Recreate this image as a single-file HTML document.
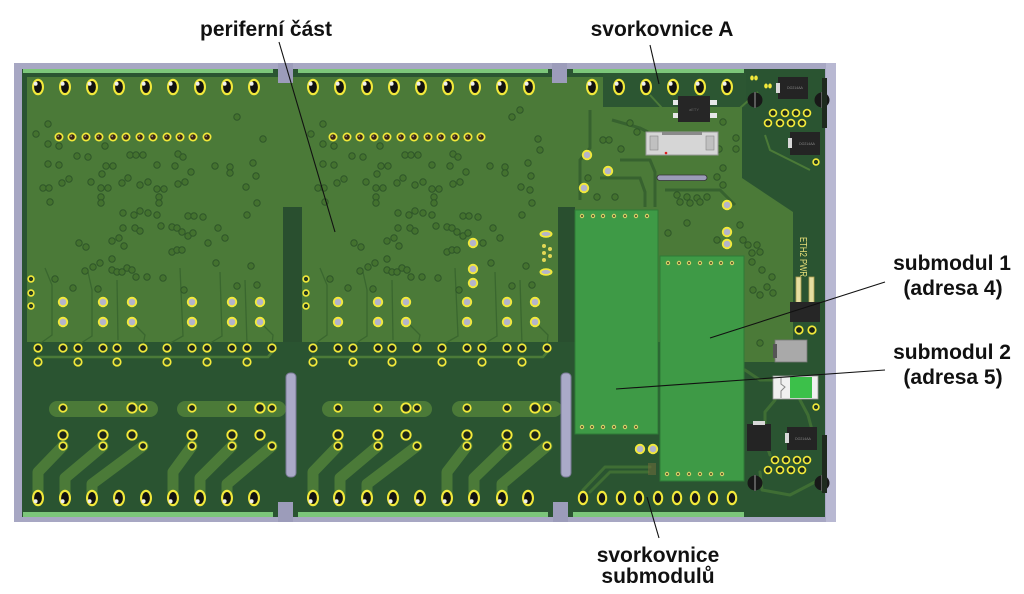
<!DOCTYPE html>
<html><head><meta charset="utf-8">
<style>
html,body{margin:0;padding:0;background:#fff;}
svg{display:block;}
text{font-family:"Liberation Sans",Arial,sans-serif;}
</style></head>
<body>
<svg width="1024" height="594" viewBox="0 0 1024 594" xmlns="http://www.w3.org/2000/svg" xmlns:xlink="http://www.w3.org/1999/xlink">
<defs>
 <g id="P"><ellipse rx="6" ry="8.3" fill="#f2e93b"/><ellipse rx="3.9" ry="6" fill="#111"/><circle cx="-2.4" cy="-3.2" r="2" fill="#eee"/></g>
 <g id="Pb"><ellipse rx="6" ry="8.3" fill="#f2e93b"/><ellipse rx="3.9" ry="6" fill="#111"/><circle cx="-2.4" cy="3.2" r="2" fill="#eee"/></g>
 <g id="Ps"><ellipse rx="5.2" ry="7.2" fill="#f2e93b"/><ellipse rx="3.2" ry="5" fill="#151515"/></g>
 <g id="R"><circle r="5.2" fill="#f2e93b"/><circle r="3.3" fill="#b4b4ca"/></g>
 <g id="D"><circle r="4.6" fill="#f2e93b"/><circle r="2.9" fill="#1c2418"/></g>
 <g id="DB"><circle r="5.6" fill="#f2e93b"/><circle r="3.7" fill="#1c2418"/></g>
 <g id="G"><circle r="4.6" fill="#f2e93b"/><circle r="2.9" fill="#30502c"/></g>
 <g id="S"><circle r="4.5" fill="#f2e93b"/><circle r="2.8" fill="#3a2616"/><circle cx="-0.8" cy="-0.8" r="0.9" fill="#9a8a70"/></g>
 <g id="T"><circle r="3.7" fill="#f2e93b"/><circle r="2.1" fill="#263a20"/></g>
 <g id="C"><circle r="4.3" fill="#f2e93b"/><circle r="2.6" fill="#1d2a1a"/></g>
 <g id="V"><circle r="3.2" fill="#44722f" stroke="#2f5629" stroke-width="1"/></g>
 <g id="M"><circle r="2.2" fill="#d8cf68"/><circle r="1" fill="#4a4a22"/></g>

 <g id="blk">
  <!-- faint traces in upper area -->
  <g stroke="#3a672f" stroke-width="1.3" fill="none">
   <path d="M45,268 L52,285 L52,335 L38,345"/>
   <path d="M88,272 L92,290 L92,336 L78,345"/>
   <path d="M117,280 L118,340"/>
   <path d="M132,322 L145,335 L143,345"/>
   <path d="M180,268 L183,336 L167,345"/>
   <path d="M220,272 L222,336 L207,345"/>
   <path d="M245,280 L247,345"/>
   <path d="M260,322 L273,335 L272,345"/>
  </g>
  <!-- vias -->
  <use href="#V" x="48" y="124"/><use href="#V" x="36" y="134"/><use href="#V" x="237" y="117"/><use href="#V" x="263" y="139"/>
  <use href="#V" x="59" y="146"/><use href="#V" x="105" y="146"/><use href="#V" x="48" y="144"/><use href="#V" x="77" y="156"/>
  <use href="#V" x="88" y="157"/><use href="#V" x="130" y="155"/><use href="#V" x="136" y="155"/><use href="#V" x="143" y="155"/>
  <use href="#V" x="178" y="154"/><use href="#V" x="183" y="157"/><use href="#V" x="48" y="164"/><use href="#V" x="59" y="165"/>
  <use href="#V" x="106" y="166"/><use href="#V" x="113" y="166"/><use href="#V" x="157" y="165"/><use href="#V" x="175" y="166"/>
  <use href="#V" x="191" y="172"/><use href="#V" x="215" y="166"/><use href="#V" x="230" y="167"/><use href="#V" x="230" y="173"/>
  <use href="#V" x="253" y="163"/><use href="#V" x="256" y="176"/><use href="#V" x="102" y="174"/><use href="#V" x="128" y="178"/>
  <use href="#V" x="69" y="179"/><use href="#V" x="62" y="183"/><use href="#V" x="43" y="188"/><use href="#V" x="49" y="188"/>
  <use href="#V" x="91" y="182"/><use href="#V" x="101" y="188"/><use href="#V" x="108" y="188"/><use href="#V" x="122" y="183"/>
  <use href="#V" x="140" y="185"/><use href="#V" x="148" y="182"/><use href="#V" x="157" y="189"/><use href="#V" x="164" y="189"/>
  <use href="#V" x="178" y="184"/><use href="#V" x="185" y="182"/><use href="#V" x="246" y="187"/><use href="#V" x="50" y="202"/>
  <use href="#V" x="101" y="197"/><use href="#V" x="101" y="203"/><use href="#V" x="159" y="197"/><use href="#V" x="159" y="203"/>
  <use href="#V" x="257" y="203"/><use href="#V" x="123" y="213"/><use href="#V" x="134" y="215"/><use href="#V" x="140" y="211"/>
  <use href="#V" x="148" y="213"/><use href="#V" x="157" y="215"/><use href="#V" x="188" y="216"/><use href="#V" x="194" y="216"/>
  <use href="#V" x="203" y="217"/><use href="#V" x="247" y="215"/><use href="#V" x="123" y="228"/><use href="#V" x="135" y="228"/>
  <use href="#V" x="140" y="231"/><use href="#V" x="161" y="226"/><use href="#V" x="172" y="227"/><use href="#V" x="177" y="228"/>
  <use href="#V" x="182" y="232"/><use href="#V" x="188" y="236"/><use href="#V" x="193" y="233"/><use href="#V" x="218" y="228"/>
  <use href="#V" x="225" y="238"/><use href="#V" x="112" y="241"/><use href="#V" x="119" y="238"/><use href="#V" x="79" y="243"/>
  <use href="#V" x="86" y="247"/><use href="#V" x="124" y="246"/><use href="#V" x="172" y="252"/><use href="#V" x="177" y="250"/>
  <use href="#V" x="182" y="250"/><use href="#V" x="208" y="243"/><use href="#V" x="112" y="259"/><use href="#V" x="100" y="263"/>
  <use href="#V" x="93" y="267"/><use href="#V" x="85" y="271"/><use href="#V" x="112" y="270"/><use href="#V" x="117" y="272"/>
  <use href="#V" x="122" y="272"/><use href="#V" x="127" y="268"/><use href="#V" x="132" y="270"/><use href="#V" x="136" y="277"/>
  <use href="#V" x="147" y="277"/><use href="#V" x="163" y="278"/><use href="#V" x="216" y="263"/><use href="#V" x="55" y="279"/>
  <use href="#V" x="73" y="288"/><use href="#V" x="98" y="289"/><use href="#V" x="184" y="290"/><use href="#V" x="237" y="286"/>
  <use href="#V" x="257" y="285"/><use href="#V" x="251" y="266"/>
 </g>
</defs>

<!-- frame -->
<rect x="14" y="63" width="822" height="459" fill="#a7a7c3"/>
<rect x="826" y="63" width="10" height="459" fill="#b8b8d2"/>
<!-- board -->
<rect x="22" y="69" width="803" height="448" fill="#2a5431"/>
<!-- edge strips -->
<g fill="#7cc67a">
 <rect x="23" y="69" width="250" height="4"/>
 <rect x="298" y="69" width="250" height="4"/>
 <rect x="573" y="69" width="171" height="4"/>
 <rect x="23" y="512" width="250" height="5"/>
 <rect x="298" y="512" width="250" height="5"/>
 <rect x="573" y="512" width="171" height="5"/>
</g>
<!-- copper lighter region -->
<rect x="27" y="77" width="715" height="265" fill="#4b7a38"/>
<rect x="283" y="207" width="19" height="135" fill="#294f2f"/>
<rect x="558" y="207" width="17" height="135" fill="#294f2f"/>
<rect x="603" y="73" width="142" height="34" fill="#2c5632"/>
<polygon points="742,107 742,178 793,212 793,345 775,362 742,362" fill="#4b7a38"/>
<rect x="742" y="73" width="4" height="34" fill="#2c5632"/>

<!-- top-right darker traces -->
<g stroke="#37622f" stroke-width="3" fill="none">
 <path d="M590,110 L590,148 L580,160 L580,200"/>
 <path d="M620,160 L650,160 L655,172 L655,207"/>
 <path d="M600,178 L640,178 L645,192 L645,207"/>
 <path d="M665,190 L720,190 L735,205"/>
 <path d="M612,120 L640,128 L648,132"/>
</g>
<g stroke="#4b7a38" stroke-width="2" fill="none">
 <path d="M650,95 L662,108 L740,108 L758,92"/>
 <path d="M765,135 L770,150 L790,160 L810,170"/>
</g>

<!-- notches -->
<g fill="#9c9cba">
 <rect x="278" y="63" width="15" height="20"/>
 <rect x="552" y="63" width="15" height="20"/>
 <rect x="278" y="502" width="15" height="20"/>
 <rect x="553" y="502" width="15" height="20"/>
</g>

<!-- block patterns -->
<use href="#blk"/>
<use href="#blk" x="275"/>

<!-- right zone vias -->
<g>
 <use href="#V" x="630" y="123"/><use href="#V" x="637" y="132"/><use href="#V" x="603" y="140"/><use href="#V" x="609" y="140"/>
 <use href="#V" x="621" y="149"/><use href="#V" x="723" y="122"/><use href="#V" x="736" y="138"/><use href="#V" x="719" y="149"/>
 <use href="#V" x="736" y="149"/><use href="#V" x="723" y="168"/><use href="#V" x="717" y="177"/><use href="#V" x="723" y="185"/>
 <use href="#V" x="677" y="195"/><use href="#V" x="687" y="197"/><use href="#V" x="697" y="198"/><use href="#V" x="707" y="197"/>
 <use href="#V" x="680" y="202"/><use href="#V" x="690" y="203"/><use href="#V" x="700" y="202"/><use href="#V" x="740" y="225"/>
 <use href="#V" x="743" y="240"/><use href="#V" x="748" y="245"/><use href="#V" x="757" y="245"/><use href="#V" x="752" y="253"/>
 <use href="#V" x="760" y="252"/><use href="#V" x="752" y="262"/><use href="#V" x="762" y="270"/><use href="#V" x="772" y="277"/>
 <use href="#V" x="767" y="287"/><use href="#V" x="753" y="290"/><use href="#V" x="760" y="295"/><use href="#V" x="773" y="293"/>
 <use href="#V" x="687" y="223"/><use href="#V" x="668" y="233"/><use href="#V" x="717" y="240"/><use href="#V" x="597" y="197"/>
 <use href="#V" x="615" y="197"/><use href="#V" x="588" y="178"/><use href="#V" x="760" y="343"/><use href="#V" x="520" y="110"/>
 <use href="#V" x="540" y="150"/><use href="#V" x="530" y="190"/>
</g>

<!-- bottom section copper traces -->
<g stroke="#4b7a38" fill="none" stroke-linecap="round" stroke-linejoin="round">
 <g stroke-width="16">
  <path d="M57,409 L150,409"/><path d="M185,409 L278,409"/>
  <path d="M330,409 L424,409"/><path d="M460,409 L554,409"/>
 </g>
 <g stroke-width="11">
  <path d="M63,446 L38,472 L38,498"/><path d="M103,446 L65,478 L65,498"/><path d="M143,446 L92,484 L92,498"/>
  <path d="M192,446 L173,472 L173,498"/><path d="M232,446 L200,478 L200,498"/><path d="M272,446 L227,484 L227,498"/>
  <path d="M338,446 L313,472 L313,498"/><path d="M378,446 L340,478 L340,498"/><path d="M417,446 L367,484 L367,498"/>
  <path d="M467,446 L447,472 L447,498"/><path d="M507,446 L474,478 L474,498"/><path d="M547,446 L502,484 L502,498"/>
 </g>
 <g stroke-width="2.5">
  <path d="M38,357 L268,357 L274,350"/><path d="M313,357 L543,357 L549,350"/>
 </g>
 <g stroke-width="3" stroke="#3f6e34">
  <path d="M583,490 L605,467 L650,467"/>
  <path d="M590,492 L610,472 L648,472"/>
  <path d="M775,400 L765,412 L765,440 L770,455"/>
  <path d="M800,400 L808,415 L812,430"/>
  <path d="M760,472 L762,490 L790,495 L815,482"/>
  <path d="M745,370 L760,380 L790,380 L800,395"/>
 </g>
</g>

<!-- slots -->
<rect x="286" y="373" width="10" height="104" rx="4" fill="#aaaac8" stroke="#7a7a96" stroke-width="1"/>
<rect x="561" y="373" width="10" height="104" rx="4" fill="#aaaac8" stroke="#7a7a96" stroke-width="1"/>

<!-- submodules -->
<rect x="575" y="210" width="83" height="224" fill="#3e9a46" stroke="#2f7a36" stroke-width="1"/>
<rect x="660" y="256" width="84" height="225" fill="#3e9a46" stroke="#2f7a36" stroke-width="1"/>
<g>
 <use href="#M" x="582" y="216"/><use href="#M" x="593" y="216"/><use href="#M" x="603" y="216"/><use href="#M" x="614" y="216"/><use href="#M" x="625" y="216"/><use href="#M" x="636" y="216"/><use href="#M" x="647" y="216"/>
 <use href="#M" x="582" y="427"/><use href="#M" x="592" y="427"/><use href="#M" x="603" y="427"/><use href="#M" x="614" y="427"/><use href="#M" x="625" y="427"/><use href="#M" x="636" y="427"/>
 <use href="#M" x="668" y="263"/><use href="#M" x="679" y="263"/><use href="#M" x="689" y="263"/><use href="#M" x="700" y="263"/><use href="#M" x="711" y="263"/><use href="#M" x="721" y="263"/><use href="#M" x="732" y="263"/>
 <use href="#M" x="667" y="474"/><use href="#M" x="678" y="474"/><use href="#M" x="689" y="474"/><use href="#M" x="700" y="474"/><use href="#M" x="711" y="474"/><use href="#M" x="722" y="474"/>
</g>

<!-- pads: top row -->
<g>
 <use href="#P" x="38" y="87"/><use href="#P" x="65" y="87"/><use href="#P" x="92" y="87"/><use href="#P" x="119" y="87"/><use href="#P" x="146" y="87"/><use href="#P" x="173" y="87"/><use href="#P" x="200" y="87"/><use href="#P" x="227" y="87"/><use href="#P" x="254" y="87"/>
 <use href="#P" x="313" y="87"/><use href="#P" x="340" y="87"/><use href="#P" x="367" y="87"/><use href="#P" x="394" y="87"/><use href="#P" x="421" y="87"/><use href="#P" x="448" y="87"/><use href="#P" x="475" y="87"/><use href="#P" x="502" y="87"/><use href="#P" x="529" y="87"/>
 <use href="#P" x="592" y="87"/><use href="#P" x="619" y="87"/><use href="#P" x="646" y="87"/><use href="#P" x="673" y="87"/><use href="#P" x="700" y="87"/><use href="#P" x="727" y="87"/>
</g>
<!-- row 137 -->
<g>
 <use href="#S" x="59" y="137"/><use href="#S" x="72" y="137"/><use href="#S" x="86" y="137"/><use href="#S" x="99" y="137"/><use href="#S" x="113" y="137"/><use href="#S" x="126" y="137"/><use href="#S" x="140" y="137"/><use href="#S" x="153" y="137"/><use href="#S" x="167" y="137"/><use href="#S" x="180" y="137"/><use href="#S" x="193" y="137"/><use href="#S" x="207" y="137"/>
 <use href="#S" x="333" y="137"/><use href="#S" x="347" y="137"/><use href="#S" x="360" y="137"/><use href="#S" x="374" y="137"/><use href="#S" x="387" y="137"/><use href="#S" x="401" y="137"/><use href="#S" x="414" y="137"/><use href="#S" x="428" y="137"/><use href="#S" x="441" y="137"/><use href="#S" x="455" y="137"/><use href="#S" x="468" y="137"/><use href="#S" x="481" y="137"/>
</g>
<!-- small left pads -->
<g>
 <use href="#T" x="31" y="279"/><use href="#T" x="31" y="293"/><use href="#T" x="31" y="306"/>
 <use href="#T" x="306" y="279"/><use href="#T" x="306" y="293"/><use href="#T" x="306" y="306"/>
</g>
<!-- rows 302 / 322 -->
<g>
 <use href="#R" x="63" y="302"/><use href="#R" x="103" y="302"/><use href="#R" x="132" y="302"/><use href="#R" x="192" y="302"/><use href="#R" x="232" y="302"/><use href="#R" x="260" y="302"/>
 <use href="#R" x="338" y="302"/><use href="#R" x="378" y="302"/><use href="#R" x="406" y="302"/><use href="#R" x="467" y="302"/><use href="#R" x="507" y="302"/><use href="#R" x="535" y="302"/>
 <use href="#R" x="63" y="322"/><use href="#R" x="103" y="322"/><use href="#R" x="132" y="322"/><use href="#R" x="192" y="322"/><use href="#R" x="232" y="322"/><use href="#R" x="260" y="322"/>
 <use href="#R" x="338" y="322"/><use href="#R" x="378" y="322"/><use href="#R" x="406" y="322"/><use href="#R" x="467" y="322"/><use href="#R" x="507" y="322"/><use href="#R" x="535" y="322"/>
</g>
<!-- rows 348 / 362 -->
<g>
 <use href="#D" x="38" y="348"/><use href="#D" x="63" y="348"/><use href="#D" x="78" y="348"/><use href="#D" x="103" y="348"/><use href="#D" x="117" y="348"/><use href="#D" x="143" y="348"/><use href="#D" x="167" y="348"/><use href="#D" x="192" y="348"/><use href="#D" x="207" y="348"/><use href="#D" x="232" y="348"/><use href="#D" x="247" y="348"/><use href="#D" x="272" y="348"/>
 <use href="#D" x="313" y="348"/><use href="#D" x="338" y="348"/><use href="#D" x="353" y="348"/><use href="#D" x="378" y="348"/><use href="#D" x="392" y="348"/><use href="#D" x="417" y="348"/><use href="#D" x="442" y="348"/><use href="#D" x="467" y="348"/><use href="#D" x="482" y="348"/><use href="#D" x="507" y="348"/><use href="#D" x="522" y="348"/><use href="#D" x="547" y="348"/>
 <use href="#G" x="38" y="362"/><use href="#G" x="78" y="362"/><use href="#G" x="117" y="362"/><use href="#G" x="167" y="362"/><use href="#G" x="207" y="362"/><use href="#G" x="247" y="362"/>
 <use href="#G" x="313" y="362"/><use href="#G" x="353" y="362"/><use href="#G" x="392" y="362"/><use href="#G" x="442" y="362"/><use href="#G" x="482" y="362"/><use href="#G" x="522" y="362"/>
</g>
<!-- strip row 408 -->
<g>
 <use href="#D" x="63" y="408"/><use href="#D" x="103" y="408"/><use href="#DB" x="132" y="408"/><use href="#D" x="143" y="408"/>
 <use href="#D" x="192" y="408"/><use href="#D" x="232" y="408"/><use href="#DB" x="260" y="408"/><use href="#D" x="272" y="408"/>
 <use href="#D" x="338" y="408"/><use href="#D" x="378" y="408"/><use href="#DB" x="406" y="408"/><use href="#D" x="417" y="408"/>
 <use href="#D" x="467" y="408"/><use href="#D" x="507" y="408"/><use href="#DB" x="535" y="408"/><use href="#D" x="547" y="408"/>
</g>
<!-- pairs -->
<g>
 <use href="#DB" x="63" y="435"/><use href="#DB" x="103" y="435"/><use href="#DB" x="132" y="435"/>
 <use href="#DB" x="192" y="435"/><use href="#DB" x="232" y="435"/><use href="#DB" x="260" y="435"/>
 <use href="#DB" x="338" y="435"/><use href="#DB" x="378" y="435"/><use href="#DB" x="406" y="435"/>
 <use href="#DB" x="467" y="435"/><use href="#DB" x="507" y="435"/><use href="#DB" x="535" y="435"/>
 <use href="#D" x="63" y="446"/><use href="#D" x="103" y="446"/><use href="#D" x="143" y="446"/>
 <use href="#D" x="192" y="446"/><use href="#D" x="232" y="446"/><use href="#D" x="272" y="446"/>
 <use href="#D" x="338" y="446"/><use href="#D" x="378" y="446"/><use href="#D" x="417" y="446"/>
 <use href="#D" x="467" y="446"/><use href="#D" x="507" y="446"/><use href="#D" x="547" y="446"/>
</g>
<!-- bottom rows -->
<g>
 <use href="#Pb" x="38" y="498"/><use href="#Pb" x="65" y="498"/><use href="#Pb" x="92" y="498"/><use href="#Pb" x="119" y="498"/><use href="#Pb" x="146" y="498"/><use href="#Pb" x="173" y="498"/><use href="#Pb" x="200" y="498"/><use href="#Pb" x="227" y="498"/><use href="#Pb" x="254" y="498"/>
 <use href="#Pb" x="313" y="498"/><use href="#Pb" x="339" y="498"/><use href="#Pb" x="367" y="498"/><use href="#Pb" x="393" y="498"/><use href="#Pb" x="420" y="498"/><use href="#Pb" x="447" y="498"/><use href="#Pb" x="474" y="498"/><use href="#Pb" x="502" y="498"/><use href="#Pb" x="528" y="498"/>
 <use href="#Ps" x="583" y="498"/><use href="#Ps" x="602" y="498"/><use href="#Ps" x="621" y="498"/><use href="#Ps" x="639" y="498"/><use href="#Ps" x="658" y="498"/><use href="#Ps" x="677" y="498"/><use href="#Ps" x="695" y="498"/><use href="#Ps" x="713" y="498"/><use href="#Ps" x="732" y="498"/>
</g>
<!-- misc yellow vias -->
<g>
 <use href="#R" x="587" y="155"/><use href="#R" x="608" y="171"/><use href="#R" x="584" y="188"/>
 <use href="#R" x="727" y="205"/><use href="#R" x="727" y="232"/><use href="#R" x="727" y="244"/>
 <use href="#T" x="816" y="162"/><use href="#T" x="816" y="407"/>
 <use href="#R" x="640" y="449"/><use href="#R" x="653" y="449"/>
 <use href="#R" x="473" y="243"/><use href="#R" x="473" y="269"/><use href="#R" x="473" y="283"/>
</g>
<!-- oval pads near 546 -->
<g>
 <ellipse cx="546" cy="234" rx="6.5" ry="3.8" fill="#f2e93b"/><ellipse cx="546" cy="234" rx="4.5" ry="2" fill="#b4b4ca"/>
 <ellipse cx="546" cy="272" rx="6.5" ry="3.8" fill="#f2e93b"/><ellipse cx="546" cy="272" rx="4.5" ry="2" fill="#b4b4ca"/>
 <circle cx="544" cy="246" r="2" fill="#e2d855"/><circle cx="550" cy="249" r="2" fill="#e2d855"/>
 <circle cx="544" cy="253" r="2" fill="#e2d855"/><circle cx="550" cy="256" r="2" fill="#e2d855"/><circle cx="544" cy="260" r="2" fill="#e2d855"/>
 <rect x="648" y="463" width="8" height="12" fill="#6a6a3a" opacity="0.6"/>
</g>

<!-- top-right components -->
<!-- SMD near svorkovnice A -->
<rect x="673" y="100" width="7" height="5" fill="#e8e8e8"/><rect x="710" y="100" width="7" height="5" fill="#e8e8e8"/>
<rect x="673" y="113" width="7" height="5" fill="#e8e8e8"/><rect x="710" y="113" width="7" height="5" fill="#e8e8e8"/>
<rect x="678" y="96" width="32" height="26" fill="#262626"/>
<text x="694" y="111" font-size="4" fill="#666" text-anchor="middle">aETY</text>
<!-- FFC connector -->
<rect x="646" y="132" width="72" height="23" fill="#d6d6d6" stroke="#9a9a9a" stroke-width="1"/>
<rect x="650" y="136" width="8" height="14" fill="#c0c0c0" stroke="#888" stroke-width="0.6"/>
<rect x="706" y="136" width="8" height="14" fill="#c0c0c0" stroke="#888" stroke-width="0.6"/>
<rect x="662" y="132" width="40" height="3" fill="#8a8a8a"/>
<circle cx="666" cy="153" r="1.3" fill="#e02020"/>
<!-- slot -->
<rect x="657" y="175" width="50" height="5.5" rx="2.7" fill="#9c9cb8" stroke="#333" stroke-width="0.8"/>

<!-- tiny pads -->
<ellipse cx="752" cy="78" rx="1.8" ry="2.5" fill="#f2e93b"/><ellipse cx="756" cy="78" rx="1.8" ry="2.5" fill="#f2e93b"/>
<ellipse cx="766" cy="86" rx="1.8" ry="2.5" fill="#f2e93b"/><ellipse cx="770" cy="86" rx="1.8" ry="2.5" fill="#f2e93b"/>

<!-- DO214 components -->
<g>
 <rect x="778" y="77" width="30" height="22" fill="#242424"/><rect x="776" y="83" width="4" height="10" fill="#d8d8d8"/>
 <text x="795" y="89" font-size="3.5" fill="#888" text-anchor="middle">DO214AA</text>
 <rect x="790" y="132" width="30" height="23" fill="#242424"/><rect x="788" y="138" width="4" height="10" fill="#d8d8d8"/>
 <text x="807" y="145" font-size="3.5" fill="#888" text-anchor="middle">DO214AA</text>
 <rect x="747" y="424" width="24" height="27" fill="#242424"/><rect x="753" y="421" width="12" height="4" fill="#d8d8d8"/>
 <rect x="787" y="427" width="30" height="23" fill="#242424"/><rect x="785" y="433" width="4" height="10" fill="#d8d8d8"/>
 <text x="803" y="440" font-size="3.5" fill="#888" text-anchor="middle">DO214AA</text>
</g>
<!-- screws / half circles -->
<g>
 <circle cx="755" cy="100" r="7.5" fill="#181818"/><rect x="754" y="92" width="2" height="16" fill="#5a5a5a"/>
 <circle cx="822" cy="100" r="7.5" fill="#181818"/><rect x="821" y="92" width="2" height="16" fill="#5a5a5a"/>
 <circle cx="755" cy="483" r="7.5" fill="#181818"/><rect x="754" y="475" width="2" height="16" fill="#5a5a5a"/>
 <circle cx="822" cy="483" r="7.5" fill="#181818"/><rect x="821" y="475" width="2" height="16" fill="#5a5a5a"/>
 <rect x="822" y="78" width="5" height="50" fill="#1e2a1e"/>
 <rect x="822" y="435" width="5" height="58" fill="#1e2a1e"/>
</g>
<!-- pin clusters -->
<g>
 <use href="#C" x="773" y="113"/><use href="#C" x="785" y="113"/><use href="#C" x="796" y="113"/><use href="#C" x="807" y="113"/>
 <use href="#C" x="768" y="123"/><use href="#C" x="780" y="123"/><use href="#C" x="791" y="123"/><use href="#C" x="802" y="123"/>
 <use href="#C" x="775" y="460"/><use href="#C" x="786" y="460"/><use href="#C" x="797" y="460"/><use href="#C" x="807" y="460"/>
 <use href="#C" x="768" y="470"/><use href="#C" x="780" y="470"/><use href="#C" x="791" y="470"/><use href="#C" x="802" y="470"/>
</g>
<!-- ETH2 PWR label -->
<text transform="translate(800,237) rotate(90)" font-size="10" fill="#e6de78" textLength="40" lengthAdjust="spacingAndGlyphs">ETH2 PWR</text>
<!-- header -->
<rect x="796" y="277" width="5" height="26" fill="#e6dea0" stroke="#b0a050" stroke-width="0.8"/>
<rect x="809" y="277" width="5" height="26" fill="#e6dea0" stroke="#b0a050" stroke-width="0.8"/>
<rect x="790" y="302" width="30" height="20" fill="#262626"/>
<use href="#D" x="799" y="330"/><use href="#D" x="812" y="330"/>
<!-- grey component -->
<rect x="775" y="340" width="32" height="22" fill="#a9a9a9" stroke="#777" stroke-width="0.8"/>
<rect x="773" y="344" width="4" height="14" fill="#555"/>
<!-- fuse -->
<rect x="773" y="376" width="45" height="23" fill="#f0f0f0" stroke="#999" stroke-width="0.8"/>
<rect x="790" y="377" width="22" height="21" fill="#3cc04a"/>
<path d="M781,377 L781,384 L785,387 L781,391 L781,398" stroke="#888" stroke-width="1" fill="none"/>

<!-- leader lines -->
<g stroke="#111" stroke-width="1.1" fill="none">
 <line x1="279" y1="42" x2="335" y2="232"/>
 <line x1="650" y1="45" x2="659" y2="84"/>
 <line x1="885" y1="282" x2="710" y2="338"/>
 <line x1="885" y1="370" x2="616" y2="389"/>
 <line x1="647" y1="497" x2="659" y2="538"/>
</g>

<!-- annotation text -->
<g font-size="21" font-weight="bold" fill="#111" text-anchor="middle">
 <text x="266" y="36">periferní část</text>
 <text x="662" y="36">svorkovnice A</text>
 <text x="952" y="270">submodul 1</text>
 <text x="953" y="295">(adresa 4)</text>
 <text x="952" y="359">submodul 2</text>
 <text x="953" y="384">(adresa 5)</text>
 <text x="658" y="562">svorkovnice</text>
 <text x="658" y="583">submodulů</text>
</g>
</svg>
</body></html>
